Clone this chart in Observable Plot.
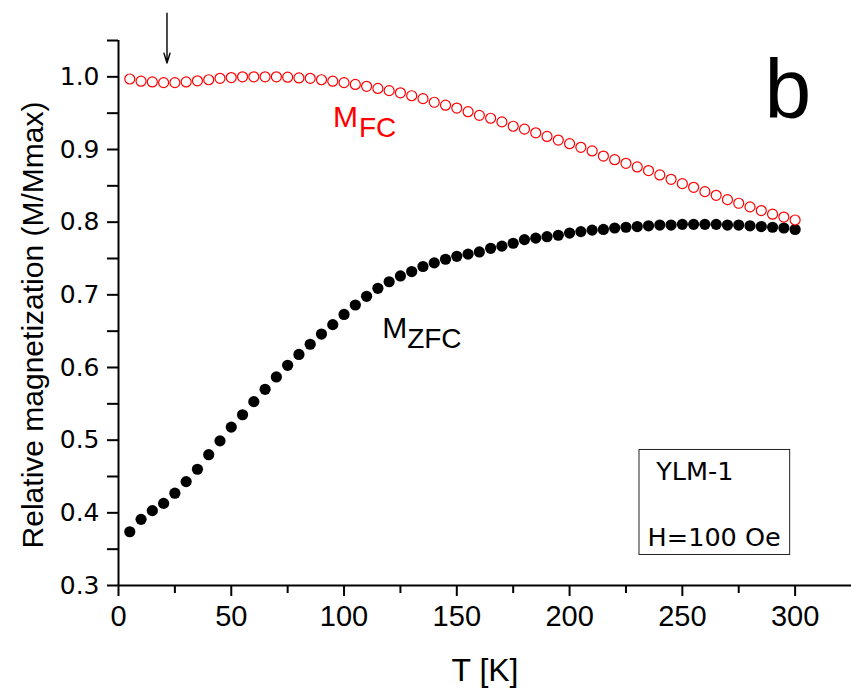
<!DOCTYPE html>
<html><head><meta charset="utf-8">
<script src="https://cdn.jsdelivr.net/npm/d3@7"></script>
<script src="https://cdn.jsdelivr.net/npm/@observablehq/plot@0.6"></script>
<style>body{margin:0;background:#fff} svg{display:block}</style>
</head><body><div id="chart"></div>
<script>
// Temperature sample points (K)
const temps = [5,10,15,20,25,30,35,40,45,50,55,60,65,70,75,80,85,90,95,100,
  105,110,115,120,125,130,135,140,145,150,155,160,165,170,175,180,185,190,195,200,
  205,210,215,220,225,230,235,240,245,250,255,260,265,270,275,280,285,290,295,300];
// Zero-field-cooled relative magnetization
const mZFC = [0.374,0.391,0.403,0.413,0.427,0.443,0.460,0.480,0.499,0.518,
  0.535,0.553,0.570,0.587,0.603,0.618,0.632,0.646,0.659,0.673,
  0.686,0.698,0.709,0.718,0.726,0.732,0.739,0.744,0.749,0.753,
  0.756,0.759,0.764,0.767,0.771,0.776,0.778,0.780,0.782,0.785,
  0.787,0.789,0.790,0.792,0.793,0.794,0.795,0.796,0.796,0.797,
  0.797,0.797,0.797,0.796,0.796,0.795,0.794,0.793,0.792,0.790];
// Field-cooled relative magnetization
const mFC = [0.997,0.994,0.993,0.992,0.992,0.993,0.9945,0.996,0.998,0.999,
  1.000,1.000,1.000,1.000,0.9995,0.9985,0.998,0.996,0.994,0.992,
  0.9895,0.987,0.984,0.981,0.978,0.974,0.970,0.965,0.961,0.957,
  0.952,0.947,0.943,0.938,0.932,0.928,0.923,0.918,0.913,0.908,
  0.903,0.898,0.891,0.886,0.881,0.876,0.871,0.865,0.859,0.853,
  0.848,0.842,0.837,0.831,0.826,0.821,0.816,0.811,0.807,0.803];

const xMajorTicks = [0,50,100,150,200,250,300];
const xMinorTicks = [25,75,125,175,225,275];
const yMajorTicks = [0.3,0.4,0.5,0.6,0.7,0.8,0.9,1.0];
const yMinorTicks = [0.35,0.45,0.55,0.65,0.75,0.85,0.95,1.05];
const xLabel = "T [K]";
const yLabel = "Relative magnetization (M/Mmax)";
const panelLabel = "b";
const boxLines = ["YLM-1", "H=100 Oe"];

// annotation anchors, in data units
const fcLabelPos = {x: 95.1, y: 0.931};
const zfcLabelPos = {x: 116.9, y: 0.640};
const panelPos = {x: 286.4, y: 0.943};
const boxPos = {x1: 231.0, x2: 297.8, y1: 0.342, y2: 0.4865};
const boxTextPos = [{x: 238.4, y: 0.4453}, {x: 234.6, y: 0.3545}];
const arrowPos = {x: 21.5, y1: 1.0876, y2: 1.019};

const zfc = temps.map((t, i) => ({T: t, M: mZFC[i]}));
const fc = temps.map((t, i) => ({T: t, M: mFC[i]}));
const boxText = boxLines.map((s, i) => ({s, ...boxTextPos[i]}));

const font = "'Liberation Sans', Arial, sans-serif";
const wide = "'DejaVu Sans', sans-serif";

const chart = Plot.plot({
  width: 851,
  height: 689,
  marginTop: 40,
  marginLeft: 118,
  marginRight: 0,
  marginBottom: 104,
  style: {fontFamily: font, background: "#fff", overflow: "visible"},
  x: {domain: [0, 325]},
  y: {domain: [0.3, 1.05]},
  marks: [
    Plot.axisX(xMajorTicks, {tickSize: 11, tickPadding: 9, fontSize: 29, strokeWidth: 2, tickFormat: d => String(d), label: null}),
    Plot.axisX(xMinorTicks, {tickSize: 8, strokeWidth: 2, tickFormat: () => "", label: null}),
    Plot.axisY(yMajorTicks, {tickSize: 11, tickPadding: 8, fontSize: 25, fontFamily: wide, strokeWidth: 2, tickFormat: d3.format(".1f"), label: null}),
    Plot.axisY(yMinorTicks, {tickSize: 11, strokeWidth: 2, tickFormat: () => "", label: null}),
    Plot.ruleY([0.3], {strokeWidth: 2}),
    Plot.ruleX([0], {strokeWidth: 2}),
    Plot.text([xLabel], {frameAnchor: "bottom", dy: 95, fontSize: 32, lineAnchor: "bottom"}),
    Plot.text([yLabel], {frameAnchor: "left", dx: -85, dy: 12, rotate: -90, fontSize: 30, textAnchor: "middle", lineAnchor: "middle"}),
    Plot.dot(zfc, {x: "T", y: "M", r: 5.6, fill: "black", stroke: "none"}),
    Plot.dot(fc, {x: "T", y: "M", r: 5.0, fill: "white", stroke: "#ff0000", strokeWidth: 1.2}),
    Plot.text(["M"], {x: () => fcLabelPos.x, y: () => fcLabelPos.y, fill: "#ff0000", fontSize: 30, textAnchor: "start", lineAnchor: "bottom"}),
    Plot.text(["FC"], {x: () => fcLabelPos.x, y: () => fcLabelPos.y, dx: 26, dy: 10, fill: "#ff0000", fontSize: 28, textAnchor: "start", lineAnchor: "bottom"}),
    Plot.text(["M"], {x: () => zfcLabelPos.x, y: () => zfcLabelPos.y, fill: "black", fontSize: 30, textAnchor: "start", lineAnchor: "bottom"}),
    Plot.text(["ZFC"], {x: () => zfcLabelPos.x, y: () => zfcLabelPos.y, dx: 25, dy: 10, fill: "black", fontSize: 28, textAnchor: "start", lineAnchor: "bottom"}),
    Plot.text([panelLabel], {x: () => panelPos.x, y: () => panelPos.y, fontSize: 84, textAnchor: "start", lineAnchor: "bottom"}),
    Plot.rect([boxPos], {x1: "x1", x2: "x2", y1: "y1", y2: "y2", fill: "white", stroke: "#222", strokeWidth: 1}),
    Plot.text(boxText, {x: "x", y: "y", text: "s", fontSize: 25.5, fontFamily: wide, textAnchor: "start", lineAnchor: "bottom"}),
    Plot.arrow([arrowPos], {x1: "x", x2: "x", y1: "y1", y2: "y2", stroke: "black", strokeWidth: 1.4, headLength: 11, headAngle: 34})
  ]
});
document.getElementById("chart").appendChild(chart);
</script>
</body></html>
